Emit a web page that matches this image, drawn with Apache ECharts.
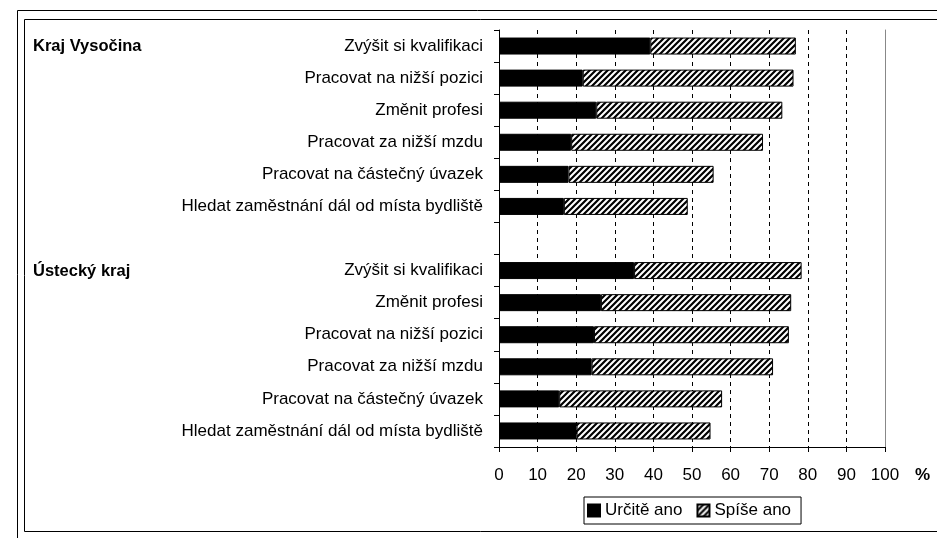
<!DOCTYPE html>
<html>
<head>
<meta charset="utf-8">
<script src="https://cdn.jsdelivr.net/npm/echarts@6/dist/echarts.min.js"></script>
<style>
	html, body { margin: 0; padding: 0; background: #fff; }
	#chart { width: 937px; height: 538px; }
</style>
</head>
<body>
<div id="chart"></div>
<script>
	// kategorie (shora dolů), prázdný řádek odděluje kraje
	var categories = [
		'Zvýšit si kvalifikaci',
		'Pracovat na nižší pozici',
		'Změnit profesi',
		'Pracovat za nižší mzdu',
		'Pracovat na částečný úvazek',
		'Hledat zaměstnání dál od místa bydliště',
		'',
		'Zvýšit si kvalifikaci',
		'Změnit profesi',
		'Pracovat na nižší pozici',
		'Pracovat za nižší mzdu',
		'Pracovat na částečný úvazek',
		'Hledat zaměstnání dál od místa bydliště'
	];
	var groups = ['Kraj Vysočina', 'Ústecký kraj'];
	var seriesNames = ['Určitě ano', 'Spíše ano'];
	var urciteAno = [39.2, 21.7, 25.2, 18.7, 18.0, 16.8, null, 35.0, 26.4, 24.6, 24.0, 15.6, 20.1];
	var spiseAno = [37.7, 54.6, 48.2, 49.7, 37.6, 32.1, null, 43.4, 49.3, 50.5, 47.0, 42.2, 34.7];
	var xTicks = [0, 100, 10];

	// šrafování ///
	function hatch() {
		var c = document.createElement('canvas');
		c.width = 6;
		c.height = 6;
		var ctx = c.getContext('2d');
		ctx.fillStyle = '#fff';
		ctx.fillRect(0, 0, 6, 6);
		ctx.strokeStyle = '#000';
		ctx.lineWidth = 2.2;
		ctx.beginPath();
		ctx.moveTo(-1, 7); ctx.lineTo(7, -1);
		ctx.moveTo(-4, 4); ctx.lineTo(4, -4);
		ctx.moveTo(2, 10); ctx.lineTo(10, 2);
		ctx.stroke();
		return c;
	}

	var font = 'Liberation Sans, Arial, sans-serif';
	var chart = echarts.init(document.getElementById('chart'));
	var option = {
		animation: false,
		textStyle: { fontFamily: font },
		grid: { left: 499, right: 52, top: 30, bottom: 91 },
		legend: {
			left: 584,
			top: 497,
			data: seriesNames,
			icon: 'rect',
			itemWidth: 12,
			itemHeight: 12,
			itemGap: 14,
			padding: [5, 10, 5, 3],
			borderColor: '#000',
			borderWidth: 1,
			textStyle: { fontSize: 17, color: '#000', fontFamily: font }
		},
		xAxis: {
			type: 'value',
			min: xTicks[0],
			max: xTicks[1],
			interval: xTicks[2],
			axisLine: { show: true, lineStyle: { color: '#000' } },
			axisTick: { show: true, length: 5, lineStyle: { color: '#000' } },
			axisLabel: { fontSize: 17, color: '#000', margin: 20, fontFamily: font },
			splitLine: { show: true, lineStyle: { color: '#000', type: [4, 4] } }
		},
		yAxis: [{
			type: 'category',
			inverse: true,
			data: categories,
			axisLine: { show: true, lineStyle: { color: '#000' } },
			axisTick: { show: true, length: 5, lineStyle: { color: '#000' } },
			axisLabel: { fontSize: 17, color: '#000', margin: 16, fontFamily: font }
		}, {
			type: 'category',
			position: 'right',
			inverse: true,
			data: categories,
			axisLine: { show: true, lineStyle: { color: '#888' } },
			axisTick: { show: false },
			axisLabel: { show: false }
		}],
		series: [{
			name: seriesNames[0],
			type: 'bar',
			stack: 'a',
			barWidth: 17,
			data: urciteAno,
			itemStyle: { color: '#000', borderColor: '#000', borderWidth: 1 }
		}, {
			name: seriesNames[1],
			type: 'bar',
			stack: 'a',
			barWidth: 17,
			data: spiseAno,
			itemStyle: { color: { image: hatch(), repeat: 'repeat' }, borderColor: '#000', borderWidth: 1 }
		}],
		graphic: [
			{ type: 'text', left: 33, top: 38, style: { text: groups[0], font: 'bold 16.5px ' + font, fill: '#000' } },
			{ type: 'text', left: 33, top: 263, style: { text: groups[1], font: 'bold 16.5px ' + font, fill: '#000' } },
			{ type: 'text', left: 915, top: 467, style: { text: '%', font: 'bold 17px ' + font, fill: '#000' } },
			// rámečky
			{ type: 'polyline', shape: { points: [[17.5, 538], [17.5, 10.5], [937, 10.5]] }, style: { stroke: '#000', lineWidth: 1, fill: null } },
			{ type: 'polyline', shape: { points: [[937, 19.5], [24.5, 19.5], [24.5, 531.5], [937, 531.5]] }, style: { stroke: '#000', lineWidth: 1, fill: null } }
		]
	};
	chart.setOption(option);
</script>
</body>
</html>
